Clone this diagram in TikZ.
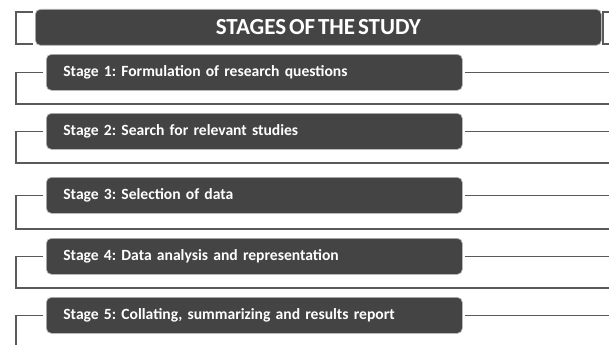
\documentclass[tikz,border=0pt]{standalone}
\usepackage{fontspec}
\setmainfont{Carlito}[WordSpace={0.55,0.3,0.2}]
\frenchspacing
\definecolor{boxfill}{HTML}{444444}
\definecolor{boxedge}{HTML}{B8B8B8}
\definecolor{linegray}{HTML}{5A5A5A}
\newcommand{\stagefont}{\bfseries\fontsize{15.6}{18}\selectfont\spaceskip=2.6pt plus 1pt minus 1pt\relax}
\begin{document}
\begin{tikzpicture}[x=1pt,y=-1pt,
  titlebox/.style={fill=boxfill, draw=boxedge, line width=0.7pt, rounded corners=5pt,
    minimum width=566pt, minimum height=36pt, anchor=north west, inner sep=0pt,
    text=white, font=\bfseries\fontsize{23}{26}\selectfont},
  stagebox/.style={fill=boxfill, draw=boxedge, line width=0.7pt, rounded corners=5pt,
    text width=382pt, inner xsep=17pt, inner ysep=0pt, minimum height=36pt,
    anchor=north west, align=left, text=white, font=\stagefont},
  conn/.style={draw=linegray, line width=1.4pt}]
\useasboundingbox (0,0) rectangle (609,345);

% frame columns and right edge
\coordinate (lx) at (16,0);
\coordinate (rx) at (609,0);

% title bar with its side brackets
\node[titlebox] (title) at (35,9) {STAGES OF THE STUDY};
\coordinate (tla) at (33,12);
\coordinate (tlb) at (33,44);
\coordinate (tra) at (609,12);
\coordinate (trb) at (609,44);
\draw[conn] (tla) -- (tla -| lx) -- (tlb -| lx) -- (tlb);
\draw[conn] (tra) -- ([xshift=-6pt]tra) -- ([xshift=-6pt]trb) -- (trb);

% stage boxes
\node[stagebox] (s1) at (46,54)  {Stage 1: Formulation of research questions};
\node[stagebox] (s2) at (46,113) {Stage 2: Search for relevant studies};
\node[stagebox] (s3) at (46,177) {Stage 3: Selection of data};
\node[stagebox] (s4) at (46,238) {Stage 4: Data analysis and representation};
\node[stagebox] (s5) at (46,297) {Stage 5: Collating, summarizing and results report};

% lower edges of each stage bracket
\coordinate (b1) at (609,104);
\coordinate (b2) at (609,163);
\coordinate (b3) at (609,229);
\coordinate (b4) at (609,288);
\coordinate (b5) at (16,345);

% brackets and right-hand rules
\foreach \s/\b in {s1/b1,s2/b2,s3/b3,s4/b4}{
  \draw[conn, shorten <=3pt] (\s.west) -- (\s.west -| lx) |- (\b);
  \draw[conn, shorten <=2pt] (\s.east) -- (\s.east -| rx);
}
\draw[conn, shorten <=3pt] (s5.west) -- (s5.west -| lx) -- (b5);
\draw[conn, shorten <=2pt] (s5.east) -- (s5.east -| rx);
\end{tikzpicture}
\end{document}
